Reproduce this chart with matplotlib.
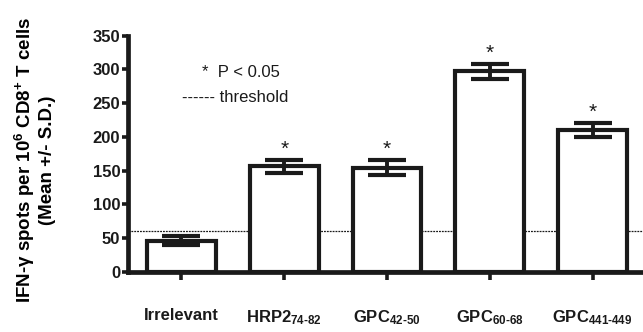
import matplotlib
matplotlib.use("Agg")
import matplotlib.pyplot as plt

categories = ["Irrelevant", r"HRP2$_{\mathregular{74\text{-}82}}$", r"GPC$_{\mathregular{42\text{-}50}}$",
              r"GPC$_{\mathregular{60\text{-}68}}$", r"GPC$_{\mathregular{441\text{-}449}}$"]
means = [46, 156, 154, 297, 210]
sds = [7, 10, 11, 11, 10]
significant = [False, True, True, True, True]
threshold = 60
yticks = [0, 50, 100, 150, 200, 250, 300, 350]

plt.rcParams['font.family'] = ['Liberation Sans', 'DejaVu Sans']
plt.rcParams['mathtext.fontset'] = 'custom'
plt.rcParams['mathtext.rm'] = 'Liberation Sans:bold'
plt.rcParams['mathtext.it'] = 'Liberation Sans:bold'
plt.rcParams['mathtext.bf'] = 'Liberation Sans:bold'

ink = '#1a1a1a'
fig = plt.figure(figsize=(6.43, 3.32), dpi=100)
ax = fig.add_axes([0.199, 0.1816, 0.801, 0.711])

x = list(range(len(categories)))
ax.bar(x, means, width=0.67, facecolor='white', edgecolor=ink, linewidth=3.0, zorder=3)
ax.errorbar(x, means, yerr=sds, fmt='none', ecolor=ink, elinewidth=2.8,
            capsize=13.5, capthick=3.0, zorder=4)
for xi, m, s, sig in zip(x, means, sds, significant):
    if sig:
        ax.text(xi, m + s + 2, "*", ha='center', va='bottom', fontsize=15, color=ink)

ax.axhline(threshold, color=ink, linestyle=(0, (1.5, 0.8)), linewidth=0.9, zorder=2)

ax.text(0.58, 296, "*  P < 0.05", ha='center', va='center', fontsize=12, color=ink)
ax.text(0.52, 258, "------ threshold", ha='center', va='center', fontsize=12, color=ink)

ax.set_xlim(-0.52, 4.49)
ax.set_ylim(0, 350)
ax.set_yticks(yticks)
ax.set_xticks(x)
ax.set_xticklabels(categories, fontsize=12, fontweight='bold')
for lab in ax.get_yticklabels():
    lab.set_fontweight('bold')
    lab.set_fontsize(12)

for s in ['top', 'right']:
    ax.spines[s].set_visible(False)
for s in ['left', 'bottom']:
    ax.spines[s].set_linewidth(3.4)
    ax.spines[s].set_color(ink)

ax.tick_params(axis='y', length=4.5, width=2.6, pad=1, colors=ink)
ax.tick_params(axis='x', length=6, width=2.6, pad=20, colors=ink)

ax.set_ylabel(r"IFN-$\gamma$ spots per 10$^{6}$ CD8$^{+}$ T cells" + "\n(Mean +/- S.D.)",
              fontsize=13.5, fontweight='bold', linespacing=1.15)
ax.yaxis.set_label_coords(-0.140, 0.473)

fig.savefig("out.png", dpi=100)
